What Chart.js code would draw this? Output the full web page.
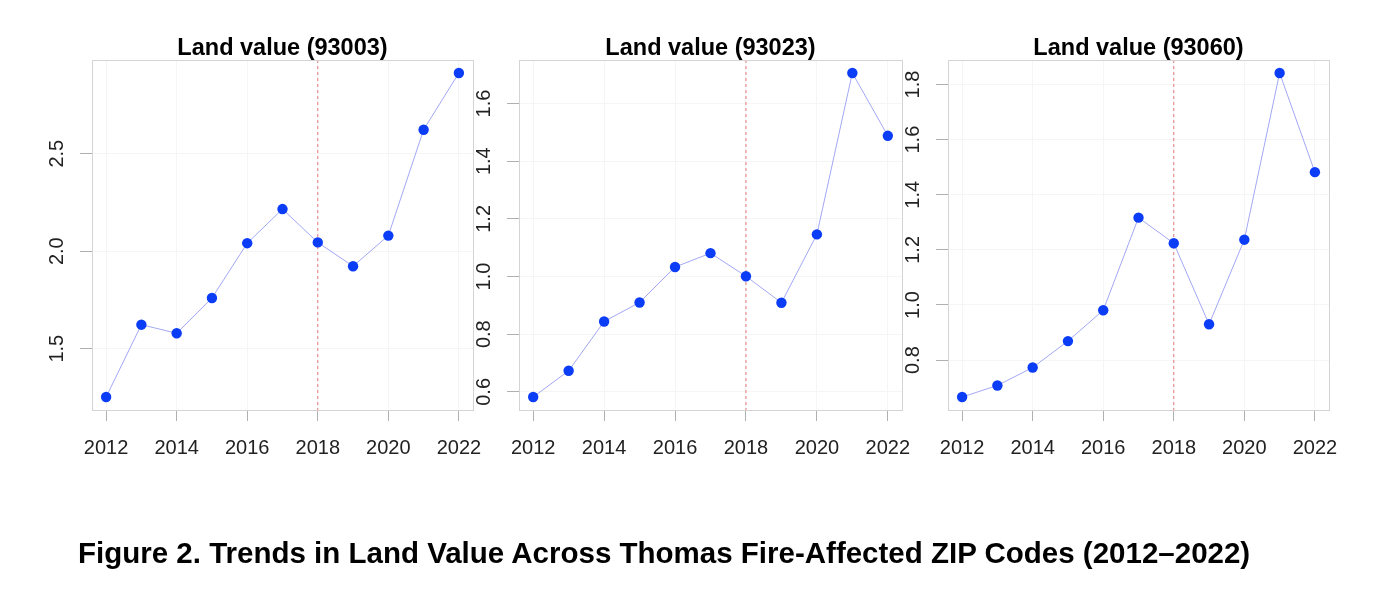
<!DOCTYPE html>
<html>
<head>
<meta charset="utf-8">
<style>
  html, body { margin: 0; padding: 0; background: #fff; }
  #wrap { position: relative; width: 1374px; height: 598px; overflow: hidden; }
  #wrap canvas { position: absolute; left: 0; top: 0; }
  #caption {
    position: absolute; left: 78px; top: 538px;
    font: bold 29.5px/29.5px "Liberation Sans", Arial, sans-serif; color: #000;
    white-space: nowrap;
  }
</style>
</head>
<body>
<div id="wrap">
  <canvas id="c1" width="1374" height="598"></canvas>
  <canvas id="c2" width="1374" height="598"></canvas>
  <canvas id="c3" width="1374" height="598"></canvas>
  <div id="caption">Figure 2. Trends in Land Value Across Thomas Fire-Affected ZIP Codes (2012–2022)</div>
</div>
<script src="https://cdn.jsdelivr.net/npm/chart.js"></script>
<script>
// values
const years = [2012, 2013, 2014, 2015, 2016, 2017, 2018, 2019, 2020, 2021, 2022];
const land93003 = [1.252, 1.623, 1.579, 1.760, 2.041, 2.216, 2.045, 1.923, 2.080, 2.623, 2.914];
const land93023 = [0.582, 0.673, 0.844, 0.910, 1.033, 1.081, 1.001, 0.909, 1.146, 1.706, 1.488];
const land93060 = [0.666, 0.708, 0.773, 0.869, 0.981, 1.317, 1.224, 0.930, 1.237, 1.842, 1.482];

const xTicks = [2012, 2014, 2016, 2018, 2020, 2022];
const yTicks93003 = [1.5, 2.0, 2.5];
const yTicks93023 = [0.6, 0.8, 1.0, 1.2, 1.4, 1.6];
const yTicks93060 = [0.8, 1.0, 1.2, 1.4, 1.6, 1.8];

const titles = ['Land value (93003)', 'Land value (93023)', 'Land value (93060)'];
const fireYear = 2018;

// plot boxes (left, right) on the page; all share top/bottom
const boxes = [[92, 473], [519, 902], [948, 1329]];
const BOX_TOP = 60, BOX_BOTTOM = 410;
const Y_AXIS_W = 50, X_AXIS_H = 60;
const FONT = '"Liberation Sans", Arial, sans-serif';

// R-style axis range: data range stretched by 4% each side
function rRange(vals) {
  const lo = Math.min(...vals), hi = Math.max(...vals);
  const pad = (hi - lo) * 0.04;
  return [lo - pad, hi + pad];
}

const rPlot = {
  id: 'rPlot',
  beforeDatasetsDraw(chart, args, opts) {
    const { ctx, chartArea: a, scales: { x } } = chart;
    const vx = x.getPixelForValue(opts.vline);
    ctx.save();
    ctx.strokeStyle = '#e27a7a';
    ctx.lineWidth = 1;
    ctx.setLineDash([3, 3]);
    ctx.beginPath();
    ctx.moveTo(vx, a.top);
    ctx.lineTo(vx, a.bottom);
    ctx.stroke();
    ctx.restore();
  },
  afterDraw(chart, args, opts) {
    const { ctx, chartArea: a, scales: { y } } = chart;
    ctx.save();
    // frame
    ctx.strokeStyle = '#d4d4d4';
    ctx.lineWidth = 1;
    ctx.strokeRect(Math.round(a.left) + 0.5, Math.round(a.top) + 0.5,
                   Math.round(a.right - a.left), Math.round(a.bottom - a.top));
    // title
    ctx.fillStyle = '#000';
    ctx.font = 'bold 23.5px ' + FONT;
    ctx.textAlign = 'center';
    ctx.textBaseline = 'middle';
    ctx.fillText(opts.title, (a.left + a.right) / 2, a.top - 11);
    // rotated y tick labels
    ctx.font = '20px ' + FONT;
    ctx.fillStyle = '#222';
    y.ticks.forEach(t => {
      const py = y.getPixelForValue(t.value);
      ctx.save();
      ctx.translate(a.left - 35, py);
      ctx.rotate(-Math.PI / 2);
      ctx.fillText(t.value.toFixed(1), 0, 0);
      ctx.restore();
    });
    ctx.restore();
  }
};

function makePanel(id, idx, values, yTicks) {
  const [left, right] = boxes[idx];
  const [xmin, xmax] = rRange(years);
  const [ymin, ymax] = rRange(values);
  new Chart(document.getElementById(id), {
    type: 'line',
    data: {
      datasets: [{
        data: years.map((yr, i) => ({ x: yr, y: values[i] })),
        borderColor: '#a3a7f4',
        borderWidth: 1,
        pointRadius: 5.2,
        pointHoverRadius: 5.2,
        pointBackgroundColor: '#0b3cf6',
        pointBorderWidth: 0,
        tension: 0,
        clip: false
      }]
    },
    options: {
      responsive: false,
      animation: false,
      events: [],
      layout: {
        padding: {
          left: left - Y_AXIS_W,
          right: 1374 - right,
          top: BOX_TOP,
          bottom: 598 - BOX_BOTTOM - X_AXIS_H
        }
      },
      plugins: {
        legend: { display: false },
        tooltip: { enabled: false },
        rPlot: { title: titles[idx], vline: fireYear }
      },
      scales: {
        x: {
          type: 'linear',
          min: xmin, max: xmax,
          afterBuildTicks: s => { s.ticks = xTicks.map(v => ({ value: v })); },
          afterFit: s => { s.height = X_AXIS_H; },
          border: { display: false },
          grid: { color: '#f5f5f5', tickColor: '#b0b0b0', tickLength: 11 },
          ticks: {
            padding: 15,
            color: '#222',
            font: { family: FONT, size: 20 },
            maxRotation: 0,
            callback: v => String(v)
          }
        },
        y: {
          type: 'linear',
          min: ymin, max: ymax,
          afterBuildTicks: s => { s.ticks = yTicks.map(v => ({ value: v })); },
          afterFit: s => { s.width = Y_AXIS_W; },
          border: { display: false },
          grid: { color: '#f5f5f5', tickColor: '#b0b0b0', tickLength: 12 },
          ticks: { display: false }
        }
      }
    },
    plugins: [rPlot]
  });
}

makePanel('c1', 0, land93003, yTicks93003);
makePanel('c2', 1, land93023, yTicks93023);
makePanel('c3', 2, land93060, yTicks93060);
</script>
</body>
</html>
